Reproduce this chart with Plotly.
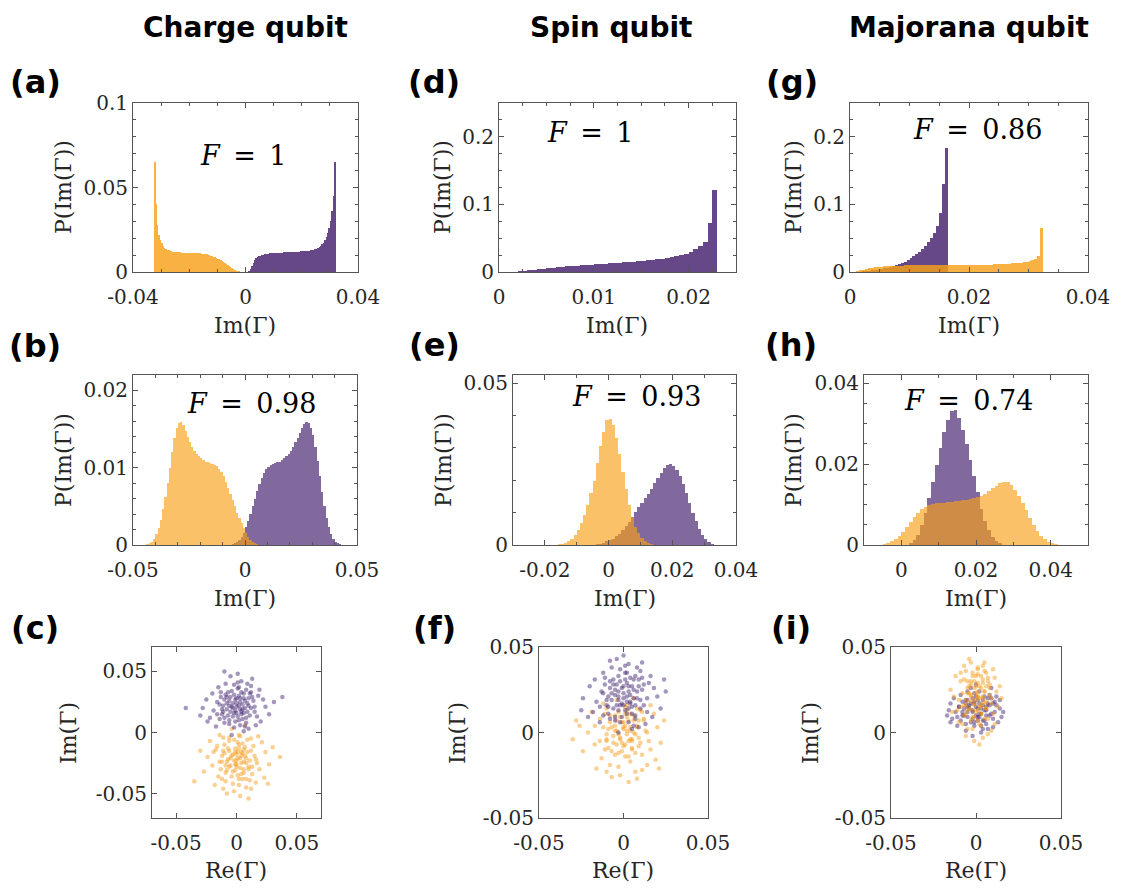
import plotly.graph_objects as go

# ---------------- DATA ----------------
titles = ["Charge qubit", "Spin qubit", "Majorana qubit"]
panel_labels = ["(a)", "(d)", "(g)", "(b)", "(e)", "(h)", "(c)", "(f)", "(i)"]
fidelity_text = ["F = 1", "F = 1", "F = 0.86", "F = 0.98", "F = 0.93", "F = 0.74"]

# histogram bins: (first bin edge, bin width)
a_bins = (-0.0325, 0.0005)
a_orange = [0.065, 0.040, 0.028, 0.022, 0.019, 0.017, 0.0155, 0.0145, 0.0138, 0.0132,
            0.0128, 0.0125, 0.0122, 0.012, 0.0119, 0.0118, 0.0117, 0.0116, 0.0116, 0.0115,
            0.0115, 0.0114, 0.0114, 0.0113, 0.0113, 0.0112, 0.0112, 0.0112, 0.0111, 0.0111,
            0.0110, 0.0110, 0.0110, 0.0109, 0.0108, 0.0107, 0.0106, 0.0104, 0.0102, 0.0100,
            0.0097, 0.0094, 0.0091, 0.0087, 0.0083, 0.0079, 0.0074, 0.0069, 0.0064, 0.0058,
            0.0052, 0.0046, 0.0040, 0.0034, 0.0028, 0.0022, 0.0017, 0.0012, 0.0008, 0.0005,
            0.0003, 0.0001, 0, 0, 0]
a_purple_bins = (0.0, 0.0005)
a_purple = [0, 0, 0.0003, 0.0015, 0.0035, 0.0055, 0.007, 0.008, 0.0088, 0.0093,
            0.0097, 0.0100, 0.0103, 0.0105, 0.0107, 0.0108, 0.0109, 0.0110, 0.0111, 0.0112,
            0.0112, 0.0113, 0.0113, 0.0114, 0.0114, 0.0115, 0.0115, 0.0116, 0.0116, 0.0117,
            0.0117, 0.0118, 0.0118, 0.0119, 0.0119, 0.0120, 0.0120, 0.0121, 0.0121, 0.0122,
            0.0122, 0.0123, 0.0124, 0.0125, 0.0126, 0.0127, 0.0129, 0.0131, 0.0133, 0.0136,
            0.0139, 0.0143, 0.0148, 0.0155, 0.0163, 0.0173, 0.0187, 0.0205, 0.023, 0.026,
            0.030, 0.036, 0.045, 0.065, 0]

d_bins = (0.0, 0.0005)
d_purple = [0, 0, 0.0002, 0.0006, 0.0012, 0.0018, 0.0026, 0.0034, 0.0042, 0.0050,
            0.0058, 0.0065, 0.0072, 0.0078, 0.0084, 0.0089, 0.0094, 0.0099, 0.0104, 0.0109,
            0.0113, 0.0118, 0.0122, 0.0127, 0.0131, 0.0136, 0.0141, 0.0146, 0.0152, 0.0158,
            0.0164, 0.0171, 0.0178, 0.0186, 0.0195, 0.0205, 0.0217, 0.0232, 0.0250, 0.0272,
            0.0300, 0.0335, 0.0380, 0.0450, 0.0720, 0.1220]

g_bins = (0.0, 0.0005)
g_purple = [0, 0, 0.0003, 0.0006, 0.0010, 0.0014, 0.0019, 0.0024, 0.0030, 0.0037,
            0.0045, 0.0054, 0.0064, 0.0075, 0.0087, 0.0100, 0.0115, 0.0132, 0.0152, 0.0175,
            0.020, 0.023, 0.0265, 0.030, 0.034, 0.039, 0.044, 0.050, 0.058, 0.068,
            0.088, 0.130, 0.183]
g_orange = [0.0000, 0.0005, 0.0015, 0.0025, 0.0035, 0.0045, 0.0055, 0.0063, 0.0070, 0.0076,
            0.0081, 0.0085, 0.0088, 0.0090, 0.0092, 0.0094, 0.0095, 0.0096, 0.0097, 0.0098,
            0.0098, 0.0099, 0.0099, 0.0100, 0.0100, 0.0100, 0.0101, 0.0101, 0.0101, 0.0102,
            0.0102, 0.0102, 0.0103, 0.0103, 0.0103, 0.0104, 0.0104, 0.0104, 0.0105, 0.0105,
            0.0106, 0.0106, 0.0107, 0.0107, 0.0108, 0.0109, 0.0110, 0.0111, 0.0112, 0.0114,
            0.0116, 0.0118, 0.0120, 0.0123, 0.0126, 0.0130, 0.0134, 0.0139, 0.0145, 0.0152,
            0.0160, 0.0172, 0.0190, 0.0240, 0.0650]

b_orange_bins = (-0.045, 0.001)
b_orange = [0.0000, 0.0001, 0.0002, 0.0004, 0.0008, 0.0014, 0.0022, 0.0032, 0.0046, 0.0062,
            0.0080, 0.0100, 0.0120, 0.0138, 0.0151, 0.0158, 0.0159, 0.0155, 0.0148, 0.0140,
            0.0133, 0.0127, 0.0122, 0.0118, 0.0115, 0.0112, 0.0110, 0.0108, 0.0107, 0.0106,
            0.0105, 0.0104, 0.0102, 0.0099, 0.0095, 0.0089, 0.0082, 0.0074, 0.0066, 0.0058,
            0.0050, 0.0042, 0.0035, 0.0028, 0.0022, 0.0016, 0.0011, 0.0007, 0.0004, 0.0002,
            0.0001, 0.0000, 0.0000]
b_purple_bins = (-0.007, 0.001)
b_purple = [0.0000, 0.0001, 0.0002, 0.0004, 0.0007, 0.0011, 0.0016, 0.0023, 0.0031, 0.0040,
            0.0050, 0.0060, 0.0070, 0.0079, 0.0087, 0.0093, 0.0098, 0.0101, 0.0103, 0.0105,
            0.0106, 0.0107, 0.0108, 0.0110, 0.0112, 0.0115, 0.0118, 0.0122, 0.0127, 0.0133,
            0.0139, 0.0145, 0.0151, 0.0156, 0.0159, 0.0158, 0.0152, 0.0142, 0.0127, 0.0109,
            0.0089, 0.0069, 0.0051, 0.0035, 0.0023, 0.0014, 0.0008, 0.0004, 0.0002, 0.0001,
            0.0000]

e_orange_bins = (-0.017, 0.001)
e_orange = [0.0001, 0.0002, 0.0004, 0.0007, 0.0012, 0.0020, 0.0031, 0.0047, 0.0068, 0.0094,
            0.0125, 0.0160, 0.0197, 0.0253, 0.0305, 0.0350, 0.0385, 0.0390, 0.0370, 0.0330,
            0.0280, 0.0225, 0.0172, 0.0125, 0.0087, 0.0057, 0.0036, 0.0021, 0.0012, 0.0006,
            0.0003, 0.0001, 0.0000]
e_purple_bins = (-0.006, 0.001)
e_purple = [0.0000, 0.0001, 0.0002, 0.0004, 0.0007, 0.0011, 0.0015, 0.0020, 0.0027, 0.0035,
            0.0045, 0.0058, 0.0072, 0.0087, 0.0102, 0.0116, 0.0130, 0.0144, 0.0158, 0.0173,
            0.0190, 0.0207, 0.0223, 0.0237, 0.0247, 0.0250, 0.0245, 0.0232, 0.0212, 0.0188,
            0.0160, 0.0130, 0.0100, 0.0073, 0.0050, 0.0032, 0.0019, 0.0010, 0.0004, 0.0001]

h_purple_bins = (0.002, 0.001)
h_purple = [0.0005, 0.0012, 0.0025, 0.0050, 0.0080, 0.0115, 0.0155, 0.0197, 0.0240, 0.0280,
            0.0310, 0.0330, 0.0333, 0.0315, 0.0285, 0.0250, 0.0210, 0.0170, 0.0130, 0.0090,
            0.0060, 0.0037, 0.0020, 0.0010, 0.0004, 0.0001]
h_orange_bins = (-0.006, 0.001)
h_orange = [0.0000, 0.0002, 0.0005, 0.0009, 0.0015, 0.0023, 0.0033, 0.0045, 0.0058, 0.0070,
            0.0080, 0.0088, 0.0094, 0.0098, 0.0101, 0.0103, 0.0104, 0.0105, 0.0106, 0.0107,
            0.0108, 0.0109, 0.0110, 0.0111, 0.0113, 0.0115, 0.0118, 0.0122, 0.0127, 0.0133,
            0.0140, 0.0147, 0.0153, 0.0156, 0.0155, 0.0148, 0.0137, 0.0122, 0.0105, 0.0086,
            0.0067, 0.0050, 0.0035, 0.0023, 0.0014, 0.0008, 0.0004, 0.0002, 0.0000]

# scatter clouds (Re, Im)
c_purple = [(-0.004,0.021),(0.006,0.028),(-0.012,0.015),(0.002,0.010),(0.010,0.022),(-0.007,0.033),(0.015,0.017),(-0.016,0.025),(0.001,0.036),(-0.002,0.004),
            (0.008,0.012),(-0.010,0.008),(0.018,0.030),(-0.019,0.018),(0.004,0.042),(-0.005,0.046),(0.012,0.038),(-0.013,0.029),(0.020,0.009),(-0.022,0.012),
            (0.003,0.019),(-0.001,0.027),(0.007,0.005),(-0.008,0.019),(0.014,0.026),(-0.003,0.013),(0.011,0.032),(-0.015,0.037),(0.024,0.021),(-0.025,0.027),
            (0.000,0.016),(0.005,0.023),(-0.006,0.026),(0.009,0.017),(-0.011,0.022),(0.016,0.006),(-0.017,0.005),(0.002,0.030),(-0.009,0.040),(0.013,0.044),
            (0.027,0.015),(-0.028,0.020),(0.006,0.001),(-0.004,-0.002),(0.019,0.035),(-0.020,0.032),(0.001,0.048),(-0.010,0.050),(0.022,0.027),(-0.024,0.009),
            (0.031,0.025),(-0.030,0.014),(0.008,0.035),(-0.002,0.039),(0.017,0.013),(-0.014,0.011),(0.004,0.015),(-0.006,0.010),(0.010,0.003),(-0.042,0.020),
            (0.038,0.029),(-0.003,0.024),(0.003,0.025),(-0.008,0.029),(0.012,0.020),(0.000,0.021),(-0.001,0.018),(0.005,0.019),(-0.005,0.017),(0.007,0.026),
            (-0.006,0.022),(0.004,0.017),(-0.010,0.027),(0.009,0.024),(-0.002,0.031),(0.001,0.013),(0.011,0.014),(-0.012,0.019),(0.006,0.032),(-0.007,0.014),
            (0.003,0.028),(-0.004,0.034),(0.013,0.029),(-0.014,0.023),(0.000,0.024),(0.007,0.020),(-0.009,0.031),(0.002,0.022),(-0.001,0.009),(0.010,0.028),
            (-0.005,0.029),(0.005,0.011),(-0.011,0.017),(0.008,0.008),(-0.003,0.020),(0.012,0.033),(-0.008,0.024),(0.001,0.041),(0.004,0.033),(-0.006,0.007),
            (0.015,0.021),(-0.016,0.015),(0.003,0.006),(-0.013,0.033),(0.009,0.040),(-0.002,0.016),(0.006,0.016),(-0.010,0.012),(0.002,0.037),(0.000,0.028)]
c_orange = [(0.003,-0.021),(-0.006,-0.015),(0.010,-0.028),(-0.012,-0.024),(0.001,-0.008),(0.007,-0.012),(-0.003,-0.032),(0.015,-0.019),(-0.016,-0.011),(0.005,-0.038),
            (-0.009,-0.040),(0.019,-0.030),(-0.020,-0.027),(0.002,-0.002),(-0.004,0.003),(0.012,-0.005),(-0.011,-0.004),(0.024,-0.016),(-0.024,-0.020),(0.008,-0.045),
            (-0.002,-0.048),(0.016,-0.041),(-0.015,-0.036),(0.000,-0.018),(0.004,-0.025),(-0.007,-0.022),(0.009,-0.016),(-0.010,-0.017),(0.013,-0.034),(-0.013,-0.030),
            (0.021,-0.008),(-0.022,-0.007),(0.006,-0.030),(-0.005,-0.027),(0.011,-0.023),(-0.001,-0.013),(0.017,-0.025),(-0.018,-0.043),(0.027,-0.026),(-0.027,-0.032),
            (0.003,-0.052),(0.010,-0.054),(-0.008,-0.050),(0.030,-0.012),(-0.030,-0.015),(0.001,-0.035),(-0.003,-0.042),(0.014,-0.011),(-0.014,-0.002),(0.007,0.006),
            (0.036,-0.020),(-0.035,-0.040),(0.023,-0.037),(0.002,-0.010),(-0.006,-0.007),(0.005,-0.017),(-0.002,-0.023),(0.008,-0.021),(-0.008,-0.031),(0.018,-0.003),
            (-0.019,-0.016),(0.000,-0.028),(0.012,-0.046),(-0.011,-0.046),(0.004,-0.019),(-0.004,-0.019),(0.006,-0.024),(0.001,-0.016),(-0.001,-0.026),(0.026,-0.042),
            (-0.005,-0.021),(0.004,-0.016),(-0.009,-0.027),(0.008,-0.025),(-0.001,-0.031),(0.002,-0.013),(0.012,-0.015),(-0.012,-0.019),(0.006,-0.033),(-0.007,-0.013),
            (0.003,-0.029),(-0.004,-0.036),(0.013,-0.028),(-0.014,-0.024),(0.000,-0.023),(0.007,-0.019),(-0.009,-0.033),(0.001,-0.021),(-0.002,-0.006),(0.010,-0.030),
            (-0.006,-0.028),(0.005,-0.009),(-0.011,-0.015),(0.009,-0.006),(-0.003,-0.018),(0.011,-0.039),(-0.008,-0.024),(0.002,-0.043),(0.004,-0.034),(-0.006,-0.004),
            (0.016,-0.022),(-0.017,-0.014),(0.003,-0.003),(-0.012,-0.038),(0.008,-0.038),(-0.001,-0.016),(0.006,-0.014),(-0.010,-0.010),(0.002,-0.038),(0.000,-0.026)]
f_purple = [(-0.003,0.021),(0.005,0.027),(-0.009,0.015),(0.002,0.011),(0.008,0.020),(-0.006,0.031),(0.012,0.016),(-0.013,0.024),(0.001,0.035),(-0.002,0.006),
            (0.007,0.010),(-0.008,0.008),(0.015,0.029),(-0.016,0.018),(0.003,0.040),(-0.004,0.043),(0.010,0.036),(-0.011,0.028),(0.017,0.009),(-0.018,0.012),
            (0.002,0.018),(-0.001,0.026),(0.006,0.004),(-0.007,0.019),(0.011,0.025),(-0.003,0.013),(0.009,0.031),(-0.012,0.035),(0.020,0.021),(-0.020,0.027),
            (0.000,0.016),(0.004,0.022),(-0.005,0.025),(0.007,0.016),(-0.009,0.021),(0.013,0.005),(-0.014,0.006),(0.002,0.029),(-0.007,0.038),(0.011,0.041),
            (0.022,0.014),(-0.024,0.020),(0.005,0.002),(-0.003,0.000),(0.016,0.033),(-0.017,0.031),(0.000,0.045),(-0.008,0.042),(0.018,0.026),(-0.021,0.009),
            (0.025,0.024),(-0.025,0.013),(0.007,0.033),(-0.002,0.037),(0.014,0.012),(-0.012,0.010),(0.003,0.014),(-0.005,0.009),(0.009,0.003),(0.024,0.031),
            (-0.003,0.024),(0.003,0.024),(-0.006,0.028),(0.010,0.019),(0.000,0.020),(-0.001,0.017),(0.004,0.018),(-0.004,0.016),(0.006,0.025),(0.001,0.031),
            (-0.005,0.022),(0.004,0.017),(-0.008,0.026),(0.008,0.024),(-0.002,0.030),(0.001,0.013),(0.010,0.014),(-0.010,0.019),(0.006,0.031),(-0.006,0.014),
            (0.003,0.027),(-0.003,0.033),(0.012,0.028),(-0.012,0.023),(0.000,0.023),(0.006,0.020),(-0.008,0.030),(0.002,0.021),(-0.001,0.009),(0.009,0.027),
            (-0.004,0.028),(0.005,0.011),(-0.010,0.016),(0.007,0.008),(-0.003,0.019),(0.011,0.032),(-0.007,0.023),(0.001,0.039),(0.004,0.032),(-0.005,0.007),
            (0.014,0.020),(-0.014,0.015),(0.003,0.006),(-0.011,0.032),(0.008,0.038),(-0.002,0.016),(0.005,0.015),(-0.009,0.011),(0.002,0.035),(0.000,0.027)]
f_orange = [(0.002,-0.001),(-0.005,0.004),(0.009,-0.008),(-0.010,-0.004),(0.001,0.011),(0.006,0.007),(-0.003,-0.012),(0.013,0.001),(-0.014,0.008),(0.004,-0.017),
            (-0.008,-0.019),(0.016,-0.010),(-0.017,-0.007),(0.002,0.016),(-0.004,0.019),(0.010,0.013),(-0.010,0.014),(0.020,0.003),(-0.021,0.000),(0.007,-0.023),
            (-0.002,-0.025),(0.014,-0.019),(-0.013,-0.015),(0.000,0.002),(0.003,-0.005),(-0.006,-0.002),(0.008,0.003),(-0.009,0.002),(0.011,-0.013),(-0.011,-0.010),
            (0.018,0.011),(-0.019,0.012),(0.005,-0.010),(-0.004,-0.007),(0.009,-0.003),(-0.001,0.006),(0.015,-0.005),(-0.016,-0.021),(0.022,-0.006),(-0.024,-0.011),
            (0.003,-0.029),(0.008,-0.027),(-0.007,-0.026),(0.024,0.007),(-0.026,0.004),(0.001,-0.014),(-0.003,-0.020),(0.012,0.008),(-0.012,0.017),(0.006,0.020),
            (-0.030,-0.004),(-0.028,0.007),(0.019,-0.016),(0.002,0.009),(-0.005,0.010),(0.004,0.003),(-0.002,-0.003),(0.007,-0.001),(-0.007,-0.011),(0.016,0.016),
            (-0.017,0.004),(0.000,-0.008),(0.011,-0.022),(-0.010,-0.023),(0.004,0.001),(-0.004,0.001),(0.005,-0.004),(0.001,0.004),(-0.001,-0.006),(0.021,-0.021),
            (-0.005,0.001),(0.004,-0.004),(-0.008,0.006),(0.008,0.004),(-0.002,0.009),(0.001,-0.007),(0.010,-0.006),(-0.010,-0.001),(0.006,0.010),(-0.006,-0.006),
            (0.003,0.007),(-0.003,0.012),(0.012,0.007),(-0.012,0.003),(0.000,0.003),(0.006,0.000),(-0.008,0.010),(0.002,0.001),(-0.001,-0.011),(0.009,0.007),
            (-0.004,0.007),(0.005,-0.009),(-0.010,-0.005),(0.007,-0.012),(-0.003,-0.001),(0.011,0.012),(-0.007,0.003),(0.001,0.015),(0.004,0.011),(-0.005,-0.013),
            (0.014,0.000),(-0.014,-0.005),(0.003,-0.014),(-0.011,0.011),(0.008,0.014),(-0.002,-0.004),(0.005,-0.005),(-0.009,-0.009),(0.002,0.013),(0.000,0.006)]
i_purple = [(-0.002,0.013),(0.004,0.016),(-0.007,0.010),(0.001,0.007),(0.006,0.013),(-0.005,0.019),(0.009,0.011),(-0.010,0.015),(0.000,0.021),(-0.001,0.004),
            (0.005,0.007),(-0.006,0.005),(0.011,0.018),(-0.012,0.012),(0.002,0.024),(-0.003,0.026),(0.008,0.022),(-0.008,0.018),(0.013,0.006),(-0.014,0.008),
            (0.002,0.011),(-0.001,0.017),(0.004,0.002),(-0.005,0.012),(0.008,0.016),(-0.002,0.008),(0.007,0.020),(-0.009,0.022),(0.014,0.014),(-0.015,0.017),
            (0.000,0.010),(0.003,0.014),(-0.004,0.016),(0.006,0.010),(-0.007,0.014),(0.010,0.003),(-0.011,0.004),(0.001,0.019),(-0.005,0.024),(0.009,0.026),
            (0.015,0.009),(-0.016,0.013),(0.003,0.000),(-0.002,-0.002),(0.012,0.021),(-0.013,0.020),(0.000,0.028),(-0.006,0.001),(0.012,0.016),(-0.015,0.006),
            (0.016,0.012),(-0.017,0.010),(0.005,0.021),(-0.001,0.023),(0.010,0.008),(-0.009,0.007),(0.002,0.009),(-0.003,0.006),(0.007,0.002),(0.014,0.019),
            (-0.004,0.014),(0.003,0.011),(-0.006,0.017),(0.006,0.015),(-0.001,0.018),(0.001,0.009),(0.008,0.010),(-0.008,0.012),(0.004,0.019),(-0.005,0.009),
            (0.002,0.017),(-0.002,0.020),(0.010,0.017),(-0.010,0.015),(0.000,0.015),(0.005,0.013),(-0.006,0.019),(0.001,0.014),(-0.001,0.006),(0.007,0.017),
            (-0.003,0.017),(0.004,0.007),(-0.008,0.010),(0.006,0.005),(-0.002,0.012),(0.009,0.020),(-0.005,0.015),(0.011,0.012),(-0.011,0.009),(0.003,0.004)]
i_orange = [(0.001,0.021),(-0.004,0.027),(0.006,0.014),(-0.007,0.016),(0.000,0.033),(0.004,0.029),(-0.002,0.009),(0.008,0.022),(-0.009,0.030),(0.003,0.004),
            (-0.005,0.002),(0.010,0.011),(-0.011,0.013),(0.001,0.038),(-0.003,0.041),(0.006,0.035),(-0.006,0.036),(0.012,0.024),(-0.013,0.021),(0.004,-0.003),
            (-0.001,-0.005),(0.009,0.001),(-0.008,0.005),(0.000,0.019),(0.002,0.015),(-0.004,0.018),(0.005,0.024),(-0.005,0.023),(0.007,0.008),(-0.007,0.010),
            (0.011,0.032),(-0.012,0.033),(0.003,0.011),(-0.002,0.013),(0.006,0.018),(-0.001,0.026),(0.009,0.017),(-0.010,0.006),(0.013,0.015),(-0.014,0.012),
            (0.002,-0.007),(0.005,0.041),(-0.004,0.043),(0.014,0.027),(-0.015,0.025),(0.001,0.007),(-0.002,0.002),(0.007,0.030),(-0.007,0.039),(0.004,0.039),
            (0.015,0.020),(-0.009,0.035),(0.011,0.005),(0.001,0.024),(-0.003,0.022),(0.002,0.020),(-0.001,0.017),(0.004,0.021),(-0.005,0.013),(0.010,0.037),
            (-0.010,0.019),(0.000,0.012),(0.007,-0.001),(-0.006,-0.002),(0.003,0.026),(-0.003,0.030),(0.005,0.017),(0.001,0.029),(-0.002,0.035),(0.008,0.026),
            (-0.003,0.021),(0.003,0.017),(-0.005,0.026),(0.005,0.024),(-0.001,0.030),(0.001,0.013),(0.006,0.014),(-0.006,0.019),(0.004,0.031),(-0.004,0.014),
            (0.002,0.027),(-0.002,0.033),(0.008,0.028),(-0.008,0.023),(0.000,0.023),(0.004,0.020),(-0.005,0.030),(0.001,0.021),(-0.001,0.009),(0.006,0.027),
            (-0.003,0.028),(0.003,0.011),(-0.006,0.016),(0.005,0.008),(-0.002,0.019),(0.007,0.032),(-0.004,0.023),(0.001,0.037),(0.003,0.033),(-0.003,0.007),
            (0.009,0.020),(-0.009,0.015),(0.002,0.005),(-0.007,0.031),(0.005,0.036),(-0.001,0.016),(0.003,0.015),(-0.006,0.011),(0.001,0.034),(0.000,0.027)]

# axis settings: (range, tickvals, ticktext, minor dtick)
x_axes = [
    ([-0.04, 0.04], [-0.04, 0, 0.04], ["-0.04", "0", "0.04"], 0.01),
    ([0, 0.025], [0, 0.01, 0.02], ["0", "0.01", "0.02"], 0.0025),
    ([0, 0.04], [0, 0.02, 0.04], ["0", "0.02", "0.04"], 0.005),
    ([-0.05, 0.05], [-0.05, 0, 0.05], ["-0.05", "0", "0.05"], 0.01),
    ([-0.03, 0.04], [-0.02, 0, 0.02, 0.04], ["-0.02", "0", "0.02", "0.04"], 0.01),
    ([-0.01, 0.05], [0, 0.02, 0.04], ["0", "0.02", "0.04"], 0.01),
    ([-0.07, 0.07], [-0.05, 0, 0.05], ["-0.05", "0", "0.05"], None),
    ([-0.05, 0.05], [-0.05, 0, 0.05], ["-0.05", "0", "0.05"], None),
    ([-0.05, 0.05], [-0.05, 0, 0.05], ["-0.05", "0", "0.05"], None),
]
y_axes = [
    ([0, 0.1], [0, 0.05, 0.1], ["0", "0.05", "0.1"], 0.01),
    ([0, 0.25], [0, 0.1, 0.2], ["0", "0.1", "0.2"], 0.025),
    ([0, 0.25], [0, 0.1, 0.2], ["0", "0.1", "0.2"], 0.025),
    ([0, 0.022], [0, 0.01, 0.02], ["0", "0.01", "0.02"], 0.002),
    ([0, 0.0525], [0, 0.05], ["0", "0.05"], 0.01),
    ([0, 0.042], [0, 0.02, 0.04], ["0", "0.02", "0.04"], 0.005),
    ([-0.07, 0.07], [-0.05, 0, 0.05], ["-0.05", "0", "0.05"], None),
    ([-0.05, 0.05], [-0.05, 0, 0.05], ["-0.05", "0", "0.05"], None),
    ([-0.05, 0.05], [-0.05, 0, 0.05], ["-0.05", "0", "0.05"], None),
]

# ---------------- LAYOUT GEOMETRY (page pixels) ----------------
PAGE_W, PAGE_H = 1121, 892
OFF = 8  # default page body margin around the figure
W, H = PAGE_W - 2 * OFF, PAGE_H - 2 * OFF
boxes = [  # left, right, top, bottom in page pixels
    (133, 358, 103, 272), (499, 736, 103, 272), (850, 1088, 103, 272),
    (133, 357, 375, 545), (513, 736, 375, 545), (864, 1088, 375, 545),
    (152, 321, 647, 818), (539, 708, 647, 818), (891, 1061, 647, 818),
]


def fx(px):
    return (px - OFF) / W


def fy(py):
    return 1 - (py - OFF) / H


ORANGE_1 = "rgba(247,160,25,0.82)"
PURPLE_1 = "rgba(75,40,115,0.85)"
ORANGE_2 = "rgba(247,160,25,0.65)"
PURPLE_2 = "rgba(75,40,115,0.70)"
ORANGE_S = "rgba(245,150,15,0.45)"
PURPLE_S = "rgba(55,25,105,0.45)"

fig = go.Figure()


def axref(i):
    return ("x" if i == 1 else f"x{i}", "y" if i == 1 else f"y{i}")


def add_hist(i, bins, vals, color):
    start, w = bins
    xs = [start + w * (k + 0.5) for k in range(len(vals))]
    xa, ya = axref(i)
    fig.add_trace(go.Bar(x=xs, y=vals, width=w, xaxis=xa, yaxis=ya,
                         marker=dict(color=color, line=dict(width=0)),
                         showlegend=False, hoverinfo="skip"))


def add_cloud(i, pts, color):
    xa, ya = axref(i)
    fig.add_trace(go.Scatter(x=[p[0] for p in pts], y=[p[1] for p in pts],
                             mode="markers", xaxis=xa, yaxis=ya,
                             marker=dict(color=color, size=4.5, line=dict(width=0)),
                             showlegend=False, hoverinfo="skip"))


add_hist(1, a_bins, a_orange, ORANGE_1)
add_hist(1, a_purple_bins, a_purple, PURPLE_1)
add_hist(2, d_bins, d_purple, PURPLE_1)
add_hist(3, g_bins, g_purple, PURPLE_1)
add_hist(3, g_bins, g_orange, ORANGE_1)
add_hist(4, b_purple_bins, b_purple, PURPLE_2)
add_hist(4, b_orange_bins, b_orange, ORANGE_2)
add_hist(5, e_purple_bins, e_purple, PURPLE_2)
add_hist(5, e_orange_bins, e_orange, ORANGE_2)
add_hist(6, h_purple_bins, h_purple, PURPLE_2)
add_hist(6, h_orange_bins, h_orange, ORANGE_2)
add_cloud(7, c_orange, ORANGE_S)
add_cloud(7, c_purple, PURPLE_S)
add_cloud(8, f_orange, ORANGE_S)
add_cloud(8, f_purple, PURPLE_S)
add_cloud(9, i_purple, PURPLE_S)
add_cloud(9, i_orange, ORANGE_S)

TICKFONT = dict(family="DejaVu Serif", size=20, color="#262626")
LINE = "#555555"
layout = dict(width=W, height=H, autosize=False,
              margin=dict(l=0, r=0, t=0, b=0, pad=0, autoexpand=False),
              paper_bgcolor="white", plot_bgcolor="white",
              barmode="overlay", bargap=0, showlegend=False)

for k in range(9):
    l, r, t, b = boxes[k]
    sx = "" if k == 0 else str(k + 1)
    for which, spec, dom in (("x", x_axes[k], [fx(l), fx(r)]),
                             ("y", y_axes[k], [fy(b), fy(t)])):
        rng, tv, tt, mdt = spec
        ax = dict(domain=dom, range=rng, tickmode="array", tickvals=tv, ticktext=tt,
                  showline=True, linecolor=LINE, linewidth=1, mirror="ticks",
                  ticks="inside", ticklen=5, tickcolor=LINE, tickwidth=1,
                  showgrid=False, zeroline=False, tickfont=TICKFONT, fixedrange=True,
                  automargin=False,
                  anchor=("y" + sx) if which == "x" else ("x" + sx))
        if which == "x":
            ax["ticklabelstandoff"] = 7
        if mdt is not None:
            ax["minor"] = dict(tickmode="linear", tick0=0, dtick=mdt, ticks="inside",
                               ticklen=3, tickcolor=LINE, showgrid=False)
        layout[f"{which}axis{sx}"] = ax

ann = []


def text(xp, yp, s, size, family="DejaVu Serif", angle=0, color="#262626"):
    ann.append(dict(x=fx(xp), y=fy(yp), xref="paper", yref="paper", text=s,
                    showarrow=False, textangle=angle, xanchor="center", yanchor="middle",
                    font=dict(family=family, size=size, color=color)))


# column titles
for s, xp in zip(titles, [245, 612, 969]):
    text(xp, 27, f"<b>{s}</b>", 28, family="DejaVu Sans", color="black")

# panel labels
label_pos = [(35, 82), (434, 82), (792, 82), (35, 346), (434, 345), (791, 345),
             (35, 628), (434, 628), (791, 628)]
for s, (xp, yp) in zip(panel_labels, label_pos):
    text(xp, yp, f"<b>{s}</b>", 32, family="DejaVu Sans", color="black")

# fidelity labels
f_pos = [(243, 155), (590, 132), (977, 130), (251, 403), (636, 397), (968, 400)]
for s, (xp, yp) in zip(fidelity_text, f_pos):
    val = s.split("=")[1].strip()
    text(xp, yp, f"<i>F</i>\u2002=\u2002{val}", 27, color="black")

# axis titles
ylab_pos = [(63, 187), (442, 187), (793, 187), (63, 460), (443, 460), (793, 460)]
for xp, yp in ylab_pos:
    text(xp, yp, "P(Im(\u0393))", 22, angle=-90)
for xp, yp in [(68, 733), (457, 733), (810, 733)]:
    text(xp, yp, "Im(\u0393)", 22, angle=-90)
for xp, yp in [(245, 325), (617, 325), (969, 325), (245, 598), (625, 598), (976, 598)]:
    text(xp, yp, "Im(\u0393)", 22)
for xp, yp in [(236, 870), (623, 870), (976, 870)]:
    text(xp, yp, "Re(\u0393)", 22)

layout["annotations"] = ann
fig.update_layout(**layout)
fig.write_html("out.html")
